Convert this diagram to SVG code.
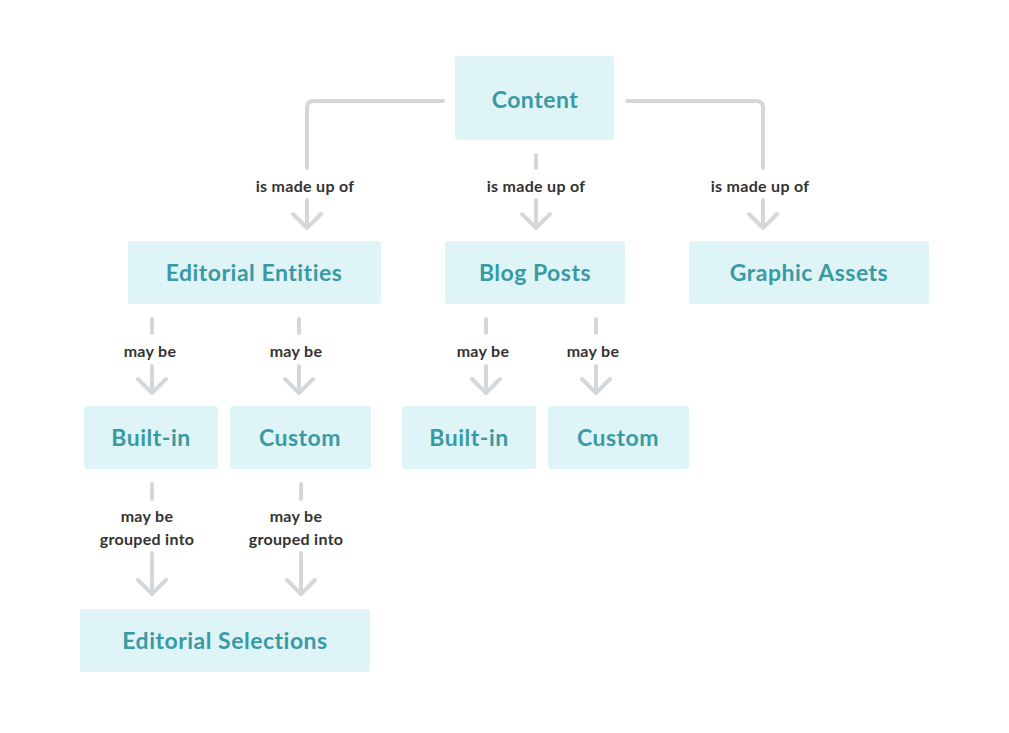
<svg xmlns="http://www.w3.org/2000/svg" width="1009" height="733" viewBox="0 0 1009 733">
<style>
.box{fill:#def4f7}
.t{font-family:Lato,"Open Sans",sans-serif;font-weight:bold;fill:#3a9aa4;text-anchor:middle;font-size:23px;letter-spacing:0.5px}
.l{font-family:Lato,"Open Sans",sans-serif;font-weight:bold;fill:#333;text-anchor:middle;font-size:16px;letter-spacing:0.3px}
.c{fill:none;stroke:#d5d8db;stroke-width:4;stroke-linecap:round;stroke-linejoin:round}
</style>
<rect width="1009" height="733" fill="#fff"/>
<g id="connectors">
<path class="c" d="M443 101 H314 Q307 101 307 108 V168"/>
<path class="c" d="M307 200 V228 M293 214 L307 228 L321 214"/>
<path class="c" d="M536 155 V168 M536 200 V228 M522 214 L536 228 L550 214"/>
<path class="c" d="M627 101 H756 Q763 101 763 108 V168 M763 200 V228 M749 214 L763 228 L777 214"/>
<g id="maybe">
<path class="c" d="M152 319 V333 M152 366 V393 M138 379 L152 393 L166 379"/>
<path class="c" d="M299 319 V333 M299 366 V393 M285 379 L299 393 L313 379"/>
<path class="c" d="M486 319 V333 M486 366 V393 M472 379 L486 393 L500 379"/>
<path class="c" d="M596 319 V333 M596 366 V393 M582 379 L596 393 L610 379"/>
<path class="c" d="M152 484 V499 M152 553 V594 M138 580 L152 594 L166 580"/>
<path class="c" d="M301 484 V499 M301 553 V594 M287 580 L301 594 L315 580"/>
</g>
<text class="l" x="305" y="192">is made up of</text>
<text class="l" x="536" y="192">is made up of</text>
<text class="l" x="760" y="192">is made up of</text>
<text class="l" x="150" y="357">may be</text>
<text class="l" x="296" y="357">may be</text>
<text class="l" x="483" y="357">may be</text>
<text class="l" x="593" y="357">may be</text>
<text class="l" x="147" y="522">may be</text>
<text class="l" x="147" y="545">grouped into</text>
<text class="l" x="296" y="522">may be</text>
<text class="l" x="296" y="545">grouped into</text>
</g>
<g id="content"><rect class="box" x="455" y="56" width="159" height="84" rx="3"/><text class="t" x="535" y="108" font-size="27">Content</text></g>
<g id="editorial-entities"><rect class="box" x="128" y="241" width="253" height="63" rx="3"/><text class="t" x="254" y="281">Editorial Entities</text></g>
<g id="blog-posts"><rect class="box" x="445" y="241" width="180" height="63" rx="3"/><text class="t" x="535" y="281">Blog Posts</text></g>
<g id="graphic-assets"><rect class="box" x="689" y="241" width="240" height="63" rx="3"/><text class="t" x="809" y="281">Graphic Assets</text></g>
<g id="builtin-1"><rect class="box" x="84" y="406" width="134" height="63" rx="3"/><text class="t" x="151" y="446">Built-in</text></g>
<g id="custom-1"><rect class="box" x="230" y="406" width="141" height="63" rx="3"/><text class="t" x="300" y="446">Custom</text></g>
<g id="builtin-2"><rect class="box" x="402" y="406" width="134" height="63" rx="3"/><text class="t" x="469" y="446">Built-in</text></g>
<g id="custom-2"><rect class="box" x="548" y="406" width="141" height="63" rx="3"/><text class="t" x="618" y="446">Custom</text></g>
<g id="editorial-selections"><rect class="box" x="80" y="609" width="290" height="63" rx="3"/><text class="t" x="225" y="649">Editorial Selections</text></g>
</svg>
